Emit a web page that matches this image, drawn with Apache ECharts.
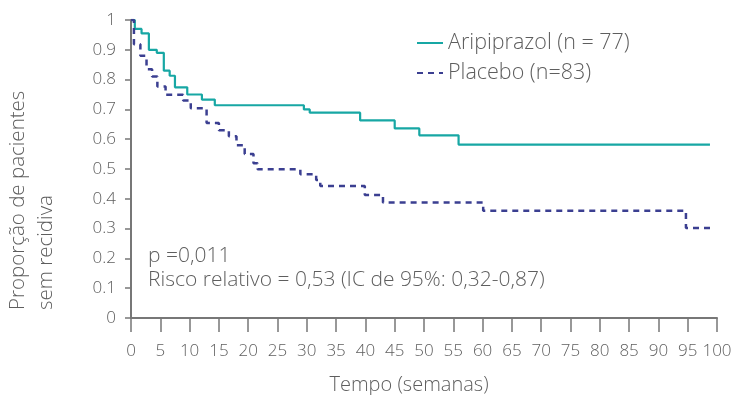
<!DOCTYPE html>
<html>
<head>
<meta charset="utf-8">
<script src="https://cdn.jsdelivr.net/npm/echarts@6/dist/echarts.min.js"></script>
<style>
  html, body { margin: 0; padding: 0; background: #fff; }
  #chart { width: 736px; height: 395px; }
</style>
</head>
<body>
<div id="chart"></div>
<script>
// tempo (semanas) e proporção sem recidiva
const aripTime = [0, 0.65, 1.8, 3.05, 4.4, 5.6, 6.6, 7.5, 9.6, 12.1, 14.3, 29.5, 30.5, 39.1, 45, 49.2, 55.9, 98.8];
const aripSurv = [1, 0.97, 0.955, 0.9, 0.89, 0.83, 0.813, 0.774, 0.75, 0.733, 0.714, 0.7, 0.689, 0.663, 0.636, 0.613, 0.582, 0.582];
const placTime = [0, 0.5, 1.6, 2.65, 3.6, 4.5, 5.9, 8.9, 10.2, 12.9, 15, 16.7, 18, 19.4, 20.9, 21.6, 28.9, 31.6, 32.3, 39.9, 43, 60.1, 94.7, 99.2];
const placSurv = [1, 0.919, 0.88, 0.835, 0.81, 0.777, 0.749, 0.73, 0.704, 0.654, 0.63, 0.61, 0.58, 0.55, 0.519, 0.499, 0.482, 0.463, 0.443, 0.413, 0.388, 0.36, 0.302, 0.302];
const seriesNames = ['Aripiprazol (n = 77)', 'Placebo (n=83)'];

const pairs = (xs, ys) => xs.map((x, i) => [x, ys[i]]);
const textColor = '#5e5e5e';
const font = '"Open Sans", "Noto Sans", sans-serif';
const weight = 300;

const chart = echarts.init(document.getElementById('chart'));
chart.setOption({
  animation: false,
  textStyle: { fontFamily: font, fontWeight: weight },
  grid: { left: 131, right: 19, top: 20, bottom: 77 },
  legend: {
    orient: 'vertical',
    left: 411,
    top: 27,
    itemWidth: 26,
    itemHeight: 14,
    itemGap: 8,
    itemStyle: { opacity: 0 },
    textStyle: { fontSize: 21.5, color: textColor, fontFamily: font, fontWeight: weight },
    data: seriesNames
  },
  xAxis: {
    type: 'value',
    min: 0,
    max: 100,
    interval: 5,
    offset: 3,
    splitLine: { show: false },
    axisLine: { lineStyle: { color: '#777', width: 2 } },
    axisTick: { length: 14, lineStyle: { color: '#777', width: 1.5 } },
    axisLabel: { fontSize: 17, color: textColor, margin: 22, fontWeight: weight }
  },
  yAxis: {
    type: 'value',
    min: 0,
    max: 1,
    interval: 0.1,
    offset: 3,
    splitLine: { show: false },
    axisLine: { show: true, lineStyle: { color: '#777', width: 2 } },
    axisTick: { show: true, length: 6, lineStyle: { color: '#777', width: 1.5 } },
    axisLabel: {
      fontSize: 17, color: textColor, margin: 12, fontWeight: weight,
      formatter: v => (v === 0 || v === 1) ? String(v) : v.toFixed(1)
    }
  },
  graphic: [
    {
      type: 'text', x: 148, y: 267,
      style: { text: 'p =0,011', fontSize: 21, fill: textColor, fontFamily: font, fontWeight: weight, verticalAlign: 'bottom' }
    },
    {
      type: 'text', x: 148, y: 291,
      style: { text: 'Risco relativo = 0,53 (IC de 95%: 0,32-0,87)', fontSize: 21, fill: textColor, fontFamily: font, fontWeight: weight, verticalAlign: 'bottom' }
    },
    {
      type: 'text', x: 409, y: 385,
      style: { text: 'Tempo (semanas)', fontSize: 20, fill: textColor, fontFamily: font, fontWeight: weight, align: 'center', verticalAlign: 'middle' }
    },
    {
      type: 'text', x: 32, y: 310, rotation: Math.PI / 2,
      style: { text: 'Proporção de pacientes\nsem recidiva', fontSize: 20.5, lineHeight: 28, fill: textColor, fontFamily: font, fontWeight: weight, align: 'left', verticalAlign: 'middle' }
    }
  ],
  series: [
    {
      name: seriesNames[0],
      type: 'line',
      step: 'end',
      showSymbol: false,
      symbol: 'none',
      color: '#17a7a4',
      lineStyle: { width: 2.2, color: '#17a7a4' },
      data: pairs(aripTime, aripSurv)
    },
    {
      name: seriesNames[1],
      type: 'line',
      step: 'end',
      showSymbol: false,
      symbol: 'none',
      color: '#3b3f91',
      lineStyle: { width: 2.5, color: '#3b3f91', type: [6, 5] },
      data: pairs(placTime, placSurv)
    }
  ]
});
</script>
</body>
</html>
